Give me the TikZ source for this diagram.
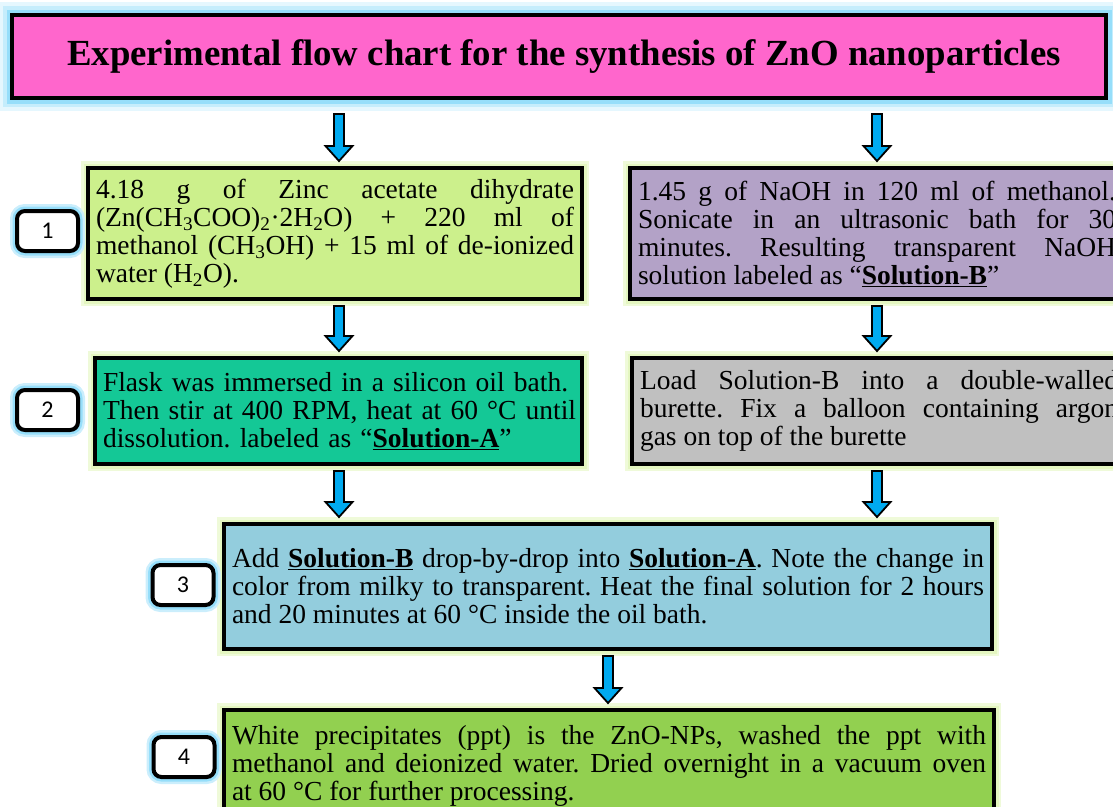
\documentclass[tikz,border=0pt]{standalone}
\usepackage{fontspec}
\setmainfont{Liberation Serif}
\newfontfamily\labelfont{Carlito}
\usetikzlibrary{calc}
\frenchspacing
\definecolor{titlepink}{RGB}{255,102,204}
\definecolor{cyanglow}{RGB}{150,222,250}
\definecolor{greenglow}{RGB}{228,246,192}
\definecolor{limebox}{RGB}{204,240,140}
\definecolor{purplebox}{RGB}{179,162,199}
\definecolor{tealbox}{RGB}{20,200,150}
\definecolor{graybox}{RGB}{192,192,192}
\definecolor{aquabox}{RGB}{147,205,221}
\definecolor{greenbox}{RGB}{146,208,80}
\definecolor{arrowblue}{RGB}{0,170,240}
\tikzset{
  titlebox/.style={draw=black, line width=4pt, fill=titlepink, minimum width=1094pt, minimum height=83pt,
    font=\bfseries\fontsize{36.8}{40}\selectfont,
    preaction={draw=cyanglow!25, line width=26pt},
    preaction={draw=cyanglow!55, line width=18pt},
    preaction={draw=cyanglow, line width=11pt}},
  stepbox/.style={draw=black, line width=4pt, anchor=north west, inner xsep=8pt, inner ysep=3pt,
    font=\fontsize{27.5}{28}\selectfont, align=justify,
    preaction={draw=greenglow!60, line width=14pt},
    preaction={draw=greenglow, line width=9pt}},
  numlabel/.style={draw=black, line width=4pt, fill=white, rounded corners=8pt,
    minimum width=61pt, minimum height=40pt, font=\labelfont\fontsize{24}{24}\selectfont,
    preaction={draw=cyanglow!50, line width=14pt, rounded corners=8pt},
    preaction={draw=cyanglow, line width=9pt, rounded corners=8pt}},
  barrow/.style={draw=black, line width=1.8pt, fill=arrowblue, line join=miter},
}
\newcommand\blockarrow[4]{%
  \filldraw[barrow] let \p1=(#1 -| #3), \p2=(#2 -| #3) in
  (\x1-5pt,\y1-#4pt) -- (\x1+5pt,\y1-#4pt) -- (\x1+5pt,\y2+20pt) -- (\x1+13.5pt,\y2+20pt)
  -- (\x1,\y2+5pt) -- (\x1-13.5pt,\y2+20pt) -- (\x1-5pt,\y2+20pt) -- cycle;}
\newcommand\solu[1]{\textbf{\underline{Solution-#1}}}
\begin{document}
\begin{tikzpicture}[x=1pt,y=-1pt]
\useasboundingbox (0,0) rectangle (1113,806);
\clip (0,0) rectangle (1113,806);

\node[titlebox] (title) at (559,56.5) {\hspace*{10pt}Experimental flow chart for the synthesis of ZnO nanoparticles};

\node[stepbox, fill=limebox, text width=478pt, minimum height=131pt] (box1) at (86,166)
  {4.18 g of Zinc acetate dihydrate\linebreak
   (Zn(CH\textsubscript{3}COO)\textsubscript{2}·2H\textsubscript{2}O) + 220 ml of\linebreak
   methanol (CH\textsubscript{3}OH) + 15 ml of de-ionized\linebreak
   water (H\textsubscript{2}O).};

\node[stepbox, fill=purplebox, text width=478pt, minimum height=131pt] (boxB) at (628,166)
  {1.45 g of NaOH in 120 ml of methanol.\linebreak
   Sonicate in an ultrasonic bath for 30\linebreak
   minutes. Resulting transparent NaOH\linebreak
   solution labeled as “\solu{B}”};

\node[stepbox, fill=tealbox, text width=483pt, inner xsep=2pt, minimum height=106pt, align=left] (box2) at (93,356)
  {\hspace*{6pt}Flask was immersed in a silicon oil bath.\\
   \hspace*{6pt}Then stir at 400 RPM, heat at 60 °C until\\
   \hspace*{6pt}dissolution. labeled as “\solu{A}”};

\node[stepbox, fill=graybox, text width=478pt, minimum height=106pt] (boxG) at (630,356)
  {Load Solution-B into a double-walled\linebreak
   burette. Fix a balloon containing argon\linebreak
   gas on top of the burette};

\node[stepbox, fill=aquabox, text width=752pt, minimum height=125pt] (box3) at (222,522)
  {Add \solu{B} drop-by-drop into \solu{A}. Note the change in\linebreak
   color from milky to transparent. Heat the final solution for 2 hours\linebreak
   and 20 minutes at 60 °C inside the oil bath.};

\node[stepbox, fill=greenbox, text width=754pt, minimum height=111pt] (box4) at (222,708)
  {White precipitates (ppt) is the ZnO-NPs, washed the ppt with\linebreak
   methanol and deionized water. Dried overnight in a vacuum oven\linebreak
   at 60 °C for further processing.};

\node[numlabel] (n1) at (47.5,231) {1};
\node[numlabel] (n2) at (47.5,410) {2};
\node[numlabel] (n3) at (183,585) {3};
\node[numlabel] (n4) at (184,757) {4};

\coordinate (xL) at (339,0);
\coordinate (xR) at (877,0);
\coordinate (xM) at (608,0);
\blockarrow{title.south}{box1.north}{xL}{14}
\blockarrow{title.south}{boxB.north}{xR}{14}
\blockarrow{box1.south}{box2.north}{xL}{5}
\blockarrow{boxB.south}{boxG.north}{xR}{5}
\blockarrow{box2.south}{box3.north}{xL}{5}
\blockarrow{boxG.south}{box3.north}{xR}{5}
\blockarrow{box3.south}{box4.north}{xM}{5}
\end{tikzpicture}
\end{document}
